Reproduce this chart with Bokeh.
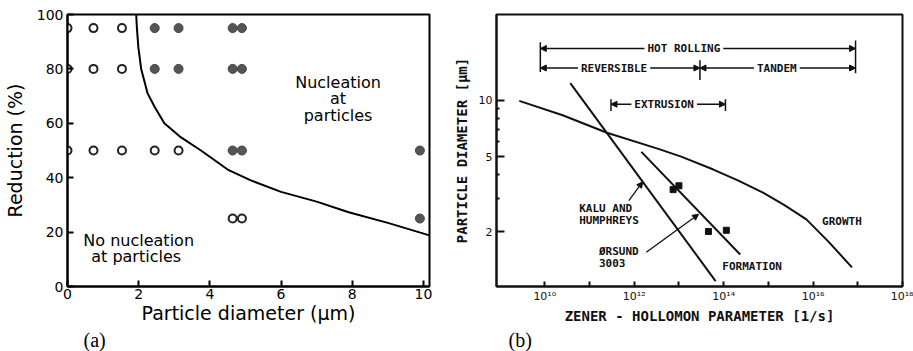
from bokeh.plotting import figure
from bokeh.layouts import row
from bokeh.models import FixedTicker, Range1d, Label, Arrow, NormalHead, Title
from bokeh.core.properties import value
from bokeh.embed import file_html
from bokeh.resources import INLINE

# ---------------- (a) reduction vs particle diameter ----------------
open_x = [0, 0.73, 1.53, 0, 0.73, 1.53, 0, 0.73, 1.53, 2.45, 3.12, 4.64, 4.9]
open_y = [95, 95, 95, 80, 80, 80, 50, 50, 50, 50, 50, 25, 25]
filled_x = [2.45, 3.12, 4.64, 4.9, 2.45, 3.12, 4.64, 4.9, 4.64, 4.9, 9.9, 9.9]
filled_y = [95, 95, 95, 95, 80, 80, 80, 80, 50, 50, 50, 25]
boundary_x = [1.93, 1.95, 1.99, 2.07, 2.25, 2.45, 2.72, 3.19, 3.75, 4.5, 5.15, 6.0, 7.0, 7.9, 9.0, 10.17]
boundary_y = [100, 95, 88, 80, 71, 66, 60, 54.8, 50, 43, 39, 34.8, 31.2, 27.3, 23.4, 18.8]
a_xticks = [0, 2, 4, 6, 8, 10]
a_yticks = [0, 20, 40, 60, 80, 100]
a_regions = ["No nucleation", "at  particles", "Nucleation", "at", "particles"]
a_region_x = [2.0, 2.0, 7.6, 7.6, 7.6]
a_region_y = [17, 11, 75, 69, 63]

SANS = "DejaVu Sans"
SERIF = "Liberation Serif"

p1 = figure(width=450, height=351, output_backend="svg", toolbar_location=None,
            x_range=Range1d(0, 10.17), y_range=Range1d(0, 100),
            min_border_left=66, min_border_right=21, min_border_top=14, min_border_bottom=65,
            background_fill_color="white", border_fill_color="white")
p1.grid.visible = False
p1.outline_line_color = "black"
p1.outline_line_width = 2

p1.xaxis.ticker = FixedTicker(ticks=a_xticks)
p1.yaxis.ticker = FixedTicker(ticks=a_yticks)
for ax in (p1.xaxis[0], p1.yaxis[0]):
    ax.axis_line_width = 2
    ax.major_tick_in = 6
    ax.major_tick_out = 0
    ax.major_tick_line_width = 2
    ax.minor_tick_line_color = None
    ax.major_label_text_font = SANS
    ax.major_label_text_font_size = "14px"
    ax.major_label_text_color = "black"
    ax.axis_label_text_font = SANS
    ax.axis_label_text_font_size = "19px"
    ax.axis_label_text_font_style = "normal"
    ax.axis_label_text_color = "black"
p1.xaxis.axis_label = "Particle diameter (µm)"
p1.yaxis.axis_label = "Reduction (%)"
p1.xaxis.major_label_standoff = 2
p1.xaxis.axis_label_standoff = 0
p1.yaxis.major_label_standoff = 4
p1.yaxis.axis_label_standoff = 8

p1.line(boundary_x, boundary_y, line_color="black", line_width=2)
p1.scatter(filled_x, filled_y, marker="circle", size=9, fill_color="#555555",
           line_color="#444444", line_width=1)
p1.scatter(open_x, open_y, marker="circle", size=8, fill_color="white",
           line_color="#222222", line_width=2)
p1.text(a_region_x, a_region_y, text=a_regions, text_align="center", text_baseline="middle",
        text_font=value(SANS), text_font_size="16px", text_color="black")
p1.add_layout(Title(text="(a)", align="left", offset=16, standoff=0,
                    text_font=SERIF, text_font_size="20px", text_font_style="normal",
                    text_color="black"), "below")

# ---------------- (b) particle diameter vs Zener-Hollomon parameter ----------------
growth_exp = [9.43, 10.4, 11.39, 12.54, 13.05, 13.77, 14.33, 14.88, 15.36, 15.85, 16.36, 16.87]
growth_d = [9.9, 8.3, 6.7, 5.5, 5.0, 4.27, 3.73, 3.22, 2.76, 2.32, 1.75, 1.29]
kalu_exp = [10.57, 13.82]
kalu_d = [12.3, 1.09]
formation_exp = [12.16, 14.37]
formation_d = [5.3, 1.51]
orsund_exp = [12.87, 13.0, 13.66, 14.06]
orsund_d = [3.34, 3.5, 2.0, 2.03]

range_names = ["HOT ROLLING", "REVERSIBLE", "TANDEM", "EXTRUSION"]
range_lo = [9.9, 9.9, 13.47, 11.48]
range_hi = [16.95, 13.47, 16.95, 14.04]
range_d = [18.8, 14.8, 14.8, 9.5]
range_label_at = [13.11, 11.55, 15.19, 12.67]
stop_exp = [9.9, 16.95, 13.47, 11.48, 14.04]
stop_lo = [14.1, 13.9, 12.8, 8.75, 8.75]
stop_hi = [20.3, 20.7, 16.3, 10.1, 10.1]

curve_names = ["GROWTH", "FORMATION", "KALU AND", "HUMPHREYS", "ØRSUND", "3003"]
curve_name_exp = [16.2, 13.97, 10.77, 10.77, 11.21, 11.21]
curve_name_d = [2.26, 1.306, 2.65, 2.29, 1.57, 1.355]
leader_from_exp = [11.88, 12.27]
leader_from_d = [2.92, 1.55]
leader_to_exp = [12.19, 13.44]
leader_to_d = [3.68, 2.47]

b_xtick_exp = [10, 12, 14, 16, 18]
b_xtick_labels = ["10¹⁰", "10¹²", "10¹⁴", "10¹⁶", "10¹⁸"]
b_xminor_exp = [11, 13, 15, 17]
b_yticks = [2, 5, 10]
b_ytick_labels = ["2", "5", "10"]
b_yminor = [3, 4, 6, 7, 8, 9]

MONO = "DejaVu Sans Mono"
INK = "#111111"


def z(e):
    return [10.0 ** v for v in e]


p2 = figure(width=463, height=351, output_backend="svg", toolbar_location=None,
            x_axis_type="log", y_axis_type="log",
            x_range=Range1d(10 ** 8.92, 10 ** 18), y_range=Range1d(1.02, 28.5),
            min_border_left=44, min_border_right=11, min_border_top=12, min_border_bottom=64,
            background_fill_color="white", border_fill_color="white")
p2.grid.visible = False
p2.outline_line_color = INK
p2.outline_line_width = 2

p2.xaxis.ticker = FixedTicker(ticks=z(b_xtick_exp), minor_ticks=z(b_xminor_exp))
p2.xaxis.major_label_overrides = {10.0 ** e: lab for e, lab in zip(b_xtick_exp, b_xtick_labels)}
p2.yaxis.ticker = FixedTicker(ticks=b_yticks, minor_ticks=b_yminor)
p2.yaxis.major_label_overrides = {float(v): lab for v, lab in zip(b_yticks, b_ytick_labels)}
for ax in (p2.xaxis[0], p2.yaxis[0]):
    ax.axis_line_width = 2
    ax.axis_line_color = INK
    ax.major_tick_out = 0
    ax.minor_tick_out = 0
    ax.major_tick_line_width = 2
    ax.minor_tick_line_width = 2
    ax.major_tick_line_color = INK
    ax.minor_tick_line_color = INK
    ax.major_label_text_font = SANS
    ax.major_label_text_font_size = "11px"
    ax.major_label_text_color = INK
    ax.axis_label_text_font = MONO
    ax.axis_label_text_font_size = "14px"
    ax.axis_label_text_font_style = "bold"
    ax.axis_label_text_color = INK
p2.xaxis.major_tick_in = 5
p2.xaxis.minor_tick_in = 5
p2.yaxis.major_tick_in = 8
p2.yaxis.minor_tick_in = 3
p2.xaxis.axis_label = "ZENER - HOLLOMON PARAMETER [1/s]"
p2.yaxis.axis_label = "PARTICLE DIAMETER [µm]"
p2.xaxis.major_label_standoff = 3
p2.xaxis.axis_label_standoff = 2
p2.yaxis.major_label_standoff = 4
p2.yaxis.axis_label_standoff = 6

p2.line(z(growth_exp), growth_d, line_color=INK, line_width=2)
p2.line(z(kalu_exp), kalu_d, line_color=INK, line_width=2)
p2.line(z(formation_exp), formation_d, line_color=INK, line_width=2)
p2.scatter(z(orsund_exp), orsund_d, marker="square", size=6, fill_color=INK, line_color=INK)

# processing windows: end stops and arrowed spans
p2.segment(z(stop_exp), stop_lo, z(stop_exp), stop_hi, line_color=INK, line_width=1.5)
for lo, hi, d, at in zip(range_lo, range_hi, range_d, range_label_at):
    for end in (lo, hi):
        p2.add_layout(Arrow(x_start=10 ** at, y_start=d, x_end=10 ** end, y_end=d,
                            line_color=INK, line_width=1.3,
                            end=NormalHead(size=6, fill_color=INK, line_color=INK, line_width=1)))
for name, d, at in zip(range_names, range_d, range_label_at):
    p2.add_layout(Label(x=10 ** at, y=d, text=name, text_align="center", text_baseline="middle",
                        text_font=MONO, text_font_size="11px", text_font_style="bold",
                        text_color=INK, background_fill_color="white", padding=3))

# curve names and leaders
p2.text(z(curve_name_exp), curve_name_d, text=curve_names, text_align="left",
        text_baseline="middle", text_font=value(MONO), text_font_size="11px",
        text_font_style="bold", text_color=INK)
for xs, ys, xe, ye in zip(leader_from_exp, leader_from_d, leader_to_exp, leader_to_d):
    p2.add_layout(Arrow(x_start=10 ** xs, y_start=ys, x_end=10 ** xe, y_end=ye,
                        line_color=INK, line_width=1.3,
                        end=NormalHead(size=6, fill_color=INK, line_color=INK, line_width=1)))

p2.add_layout(Title(text="(b)", align="left", offset=12, standoff=0,
                    text_font=SERIF, text_font_size="20px", text_font_style="normal",
                    text_color="black"), "below")

layout = row(p1, p2)
open("out.html", "w").write(file_html(layout, INLINE))
